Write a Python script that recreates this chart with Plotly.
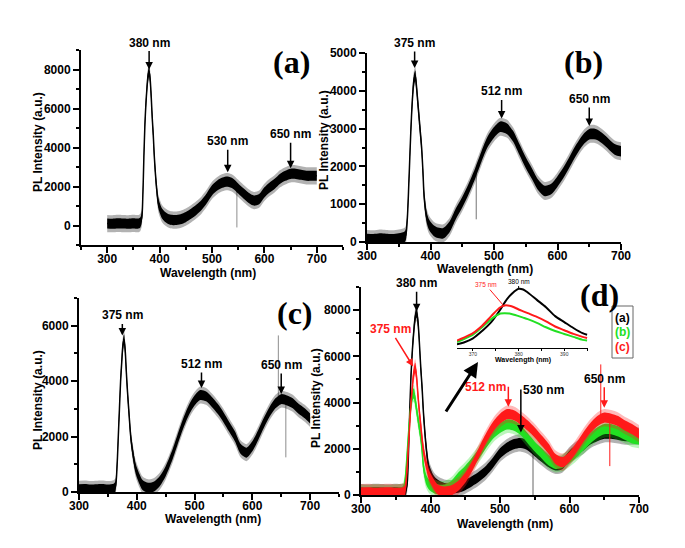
import numpy as np
import plotly.graph_objects as go

# ---------------- data ----------------
wl = [300, 310, 320, 330, 340, 350, 360,
      363, 366, 368, 370, 372, 374, 376, 378, 380, 382, 384, 386, 388, 390,
      394, 398, 405, 410,
      420, 430, 440, 450, 460, 470, 480, 490, 500, 510, 520, 530, 540, 550,
      560, 570, 580, 590, 600, 610, 620, 630, 640, 650, 660, 670, 680, 690, 700]

pl_a = [100, 90, 110, 100, 90, 110, 100,
        150, 400, 1500, 3500, 5200, 6300, 7100, 7700, 7900, 7500, 6600, 5500, 4600, 3500,
        2000, 1100, 600, 450,
        300, 280, 320, 430, 600, 800, 1050, 1400, 1800, 2050, 2200, 2250, 2150, 1900,
        1650, 1420, 1280, 1350, 1700, 1950, 2150, 2400, 2550, 2650, 2650, 2600, 2550, 2550, 2550]

pl_b = [80, 70, 90, 80, 70, 90, 150,
        500, 1600, 2500, 3300, 3900, 4300, 4400, 4100, 3700, 3300, 2900, 2500, 1900, 1200,
        650, 450, 300, 250,
        230, 400, 750, 1050, 1400, 1800, 2250, 2650, 2900, 3050, 3000, 2800, 2450, 2100,
        1800, 1500, 1350, 1400, 1600, 1850, 2150, 2450, 2700, 2850, 2850, 2750, 2600, 2450, 2400]

pl_c = [100, 110, 90, 100, 110, 90, 120,
        200, 1000, 2000, 3000, 4000, 4700, 5300, 5500, 5100, 4300, 3600, 3000, 2400, 1900,
        1300, 850, 450, 250,
        150, 200, 400, 750, 1250, 1850, 2450, 2950, 3300, 3500, 3450, 3250, 3000, 2700,
        2350, 2000, 1550, 1420, 1650, 2050, 2500, 2900, 3200, 3350, 3300, 3200, 3000, 2850, 2650]

# single-channel spikes (wavelength, low, high)
spike_a_x, spike_a_lo, spike_a_hi = [547.5], [-100], [1900]
spike_b_x, spike_b_lo, spike_b_hi = [472], [600], [1850]
spike_c_x, spike_c_lo, spike_c_hi = [645, 658], [3300, 1250], [5650, 3300]

# inset (zoom of the UV peak)
inset_wl = [366.5, 368, 370, 372, 374, 376, 377, 378, 379, 380, 381, 382, 384, 386, 388, 390, 392, 394, 395]
inset_a = [500, 750, 1300, 2300, 3500, 5200, 6200, 7000, 7600, 8000, 7900, 7500, 6500, 5500, 4300, 3500, 2700, 2000, 1800]
inset_b = [800, 1200, 1800, 2800, 3900, 4650, 4700, 4650, 4500, 4300, 4100, 3900, 3400, 2800, 2300, 1900, 1500, 1100, 1000]
inset_c = [1000, 1400, 2000, 3000, 4300, 5500, 5750, 5700, 5500, 5200, 4950, 4700, 4200, 3600, 2900, 2400, 1900, 1500, 1350]

peaks_a = [380, 530, 650]
peaks_b = [375, 512, 650]
peaks_c = [375, 512, 650]
peaks_d_black = [380, 530]
peaks_d_red = [375, 512, 650]
legend_labels = ["(a)", "(b)", "(c)"]
panel_labels = ["(a)", "(b)", "(c)", "(d)"]
y_title = "PL Intensity (a.u.)"
x_title = "Wavelength (nm)"

# ---------------- helpers ----------------
W, H = 685, 548
def PX(p):
    return p / W
def PY(p):
    return 1 - p / H

BLACK = "#000000"
GREEN = "#22e022"
RED = "#ff1a1a"

def rgba(hexc, a):
    h = hexc.lstrip("#")
    return "rgba(%d,%d,%d,%.2f)" % (int(h[0:2], 16), int(h[2:4], 16), int(h[4:6], 16), a)

fig = go.Figure()

def refs(idx):
    return ("x" if idx == 1 else "x%d" % idx), ("y" if idx == 1 else "y%d" % idx)

def add_series(idx, y, color, half, thin_w=1.5):
    """Noisy spectrum drawn as a noise band (+/- half in data units) plus a thin core line."""
    xa, ya = refs(idx)
    y = np.array(y, dtype=float)
    common = dict(x=wl, xaxis=xa, yaxis=ya, mode="lines", showlegend=False, hoverinfo="skip")
    for h, a in [(half * 1.7, 0.30), (half, 1.0)]:
        fig.add_trace(go.Scatter(y=list(y - h), line=dict(width=0, shape="spline", smoothing=0.8),
                                 **common))
        fig.add_trace(go.Scatter(y=list(y + h), fill="tonexty", fillcolor=rgba(color, a),
                                 line=dict(width=0, shape="spline", smoothing=0.8), **common))
    fig.add_trace(go.Scatter(y=list(y), line=dict(color=color, width=thin_w,
                                                  shape="spline", smoothing=0.8), **common))

def add_spikes(idx, xs, lo, hi, color):
    xa, ya = refs(idx)
    sx, sy = [], []
    for a, l, h in zip(xs, lo, hi):
        sx += [a, a, None]
        sy += [l, h, None]
    fig.add_trace(go.Scatter(x=sx, y=sy, xaxis=xa, yaxis=ya, mode="lines",
                             line=dict(color=color, width=1), showlegend=False, hoverinfo="skip"))

# panel (a)
add_series(1, pl_a, BLACK, 260)
add_spikes(1, spike_a_x, spike_a_lo, spike_a_hi, "rgba(0,0,0,0.45)")
# panel (b)
add_series(2, pl_b, BLACK, 140)
add_spikes(2, spike_b_x, spike_b_lo, spike_b_hi, "rgba(0,0,0,0.55)")
# panel (c)
add_series(3, pl_c, BLACK, 180)
add_spikes(3, spike_c_x, spike_c_lo, spike_c_hi, "rgba(0,0,0,0.45)")
# panel (d)
add_series(4, pl_a, BLACK, 220)
add_spikes(4, spike_a_x, spike_a_lo, spike_a_hi, "rgba(0,0,0,0.6)")
add_series(4, pl_b, GREEN, 220)
add_series(4, pl_c, RED, 220)
add_spikes(4, spike_c_x, spike_c_lo, spike_c_hi, RED)
# inset
for ys, c in [(inset_a, BLACK), (inset_b, GREEN), (inset_c, RED)]:
    fig.add_trace(go.Scatter(x=inset_wl, y=ys, xaxis="x5", yaxis="y5", mode="lines",
                             line=dict(color=c, width=2, shape="spline", smoothing=0.8),
                             showlegend=False, hoverinfo="skip"))

# ---------------- axes ----------------
tickfont = dict(family="Liberation Sans, Arial", size=12, color="black", weight="bold")

def axis(domain, rng, tickvals, minor_dtick, anchor, **kw):
    d = dict(domain=domain, range=rng, tickvals=tickvals, ticktext=[str(v) for v in tickvals],
             showline=True, linecolor="black", linewidth=2, ticks="outside", ticklen=6,
             tickwidth=2, tickcolor="black", showgrid=False, zeroline=False, automargin=False,
             tickfont=tickfont, anchor=anchor, fixedrange=True,
             minor=dict(dtick=minor_dtick, tick0=0, ticks="outside", ticklen=3,
                        tickwidth=1.5, tickcolor="black", showgrid=False))
    d.update(kw)
    return d

xt = [300, 400, 500, 600, 700]
xs_off = -4
layout = dict(
    template="none",
    width=W, height=H, margin=dict(l=0, r=0, t=0, b=0, pad=0), autosize=False,
    paper_bgcolor="white", plot_bgcolor="white", showlegend=False,
    xaxis=axis([PX(81), PX(343)], [250, 750], xt, 50, "y", ticklabelstandoff=xs_off),
    yaxis=axis([PY(245), PY(50)], [-1000, 9000], [0, 2000, 4000, 6000, 8000], 1000, "x"),
    xaxis2=axis([PX(367), PX(621)], [300, 700], xt, 50, "y2", ticklabelstandoff=xs_off),
    yaxis2=axis([PY(242), PY(53)], [0, 5000], [0, 1000, 2000, 3000, 4000, 5000], 500, "x2"),
    xaxis3=axis([PX(79), PX(339)], [300, 750], xt, 50, "y3", ticklabelstandoff=xs_off),
    yaxis3=axis([PY(492), PY(298)], [0, 7000], [0, 2000, 4000, 6000], 1000, "x3"),
    xaxis4=axis([PX(361), PX(639)], [300, 700], xt, 50, "y4", ticklabelstandoff=xs_off),
    yaxis4=axis([PY(495), PY(287)], [0, 9000], [0, 2000, 4000, 6000, 8000], 1000, "x4"),
    xaxis5=dict(domain=[PX(457), PX(588)], range=[366.5, 395.2], anchor="y5",
                tickvals=[370, 380, 390], showline=True, linecolor="black", linewidth=1,
                ticks="outside", ticklen=2, tickwidth=1, tickcolor="black", automargin=False,
                tickfont=dict(family="Liberation Sans, Arial", size=5, color="#333"),
                showgrid=False, zeroline=False, fixedrange=True, ticklabelstandoff=-1,
                minor=dict(dtick=5, tick0=0, ticks="outside", ticklen=1.5, tickcolor="black")),
    yaxis5=dict(domain=[PY(348), PY(278)], range=[0, 9450], anchor="x5", visible=False,
                automargin=False, fixedrange=True),
)
fig.update_layout(**layout)

# ---------------- annotations ----------------
ann = []
def txt(x, y, s, size=12, color="black", family="Liberation Sans, Arial", bold=True, angle=0):
    ann.append(dict(x=PX(x), y=PY(y), xref="paper", yref="paper", showarrow=False,
                    text=("<b>%s</b>" % s) if bold else s, textangle=angle,
                    font=dict(family=family, size=size, color=color),
                    xanchor="center", yanchor="middle"))

# axis titles
for (x, y) in [(38, 142), (324, 140), (38, 400), (316, 398)]:
    txt(x, y, y_title, angle=-90)
for (x, y) in [(208, 273), (485, 269), (213, 519), (505, 524)]:
    txt(x, y, x_title)
# panel letters
for s, (x, y) in zip(panel_labels, [(291, 62), (583, 62), (295, 313), (599, 295)]):
    txt(x, y, s, size=32, family="Liberation Serif, Times New Roman")

# peak arrows
def peak(idx, p, series, pad, ax, ay, color="black", arrowcolor=None, xanchor="center"):
    xa, ya = refs(idx)
    yv = float(np.interp(p, wl, series)) + pad
    ann.append(dict(x=p, y=yv, xref=xa, yref=ya, text="<b>%d nm</b>" % p,
                    showarrow=True, ax=ax, ay=ay, arrowhead=2, arrowsize=1, arrowwidth=1.5,
                    arrowcolor=arrowcolor or color, standoff=0, xanchor=xanchor,
                    font=dict(family="Liberation Sans, Arial", size=12, color=color)))

for p, pad, ay in zip(peaks_a, [100, 480, 290], [-27, -31, -34]):
    peak(1, p, pl_a, pad, 0, ay)
for p, pad, ay in zip(peaks_b, [250, 230, 220], [-25, -27, -27]):
    peak(2, p, pl_b, pad, 0, ay)
for p, pad, ay in zip(peaks_c, [650, 260, 190], [-20, -24, -29]):
    peak(3, p, pl_c, pad, 0, ay)
# panel (d)
peak(4, peaks_d_black[0], pl_a, 50, 0, -28)
peak(4, peaks_d_black[1], pl_a, 450, 0, -43, xanchor="left")
peak(4, peaks_d_red[0], pl_c, 565, -23, -37, color=RED)
peak(4, peaks_d_red[1], pl_c, 330, 0, -20, color=RED, xanchor="right")
peak(4, peaks_d_red[2], pl_c, 430, 0, -29, color="black", arrowcolor=RED)

# big arrow towards inset
ann.append(dict(x=PX(478), y=PY(362), xref="paper", yref="paper", text="", showarrow=True,
                ax=-33, ay=51, arrowhead=2, arrowsize=1, arrowwidth=3, arrowcolor="black",
                standoff=0))

# inset labels
ann.append(dict(x=380, y=float(np.interp(380, inset_wl, inset_a)) + 100, xref="x5", yref="y5",
                text="380 nm", showarrow=True, ax=0, ay=-7, arrowhead=0, arrowwidth=1,
                arrowcolor="black", standoff=0,
                font=dict(family="Liberation Sans, Arial", size=6.5, color="black")))
ann.append(dict(x=376.7, y=float(np.interp(376.7, inset_wl, inset_c)) + 50, xref="x5", yref="y5",
                text="375 nm", showarrow=True, ax=-18, ay=-21, arrowhead=0, arrowwidth=1,
                arrowcolor=RED, standoff=0,
                font=dict(family="Liberation Sans, Arial", size=6.5, color=RED)))
txt(523, 360, x_title, size=7)

# legend box
for s, c, y in zip(legend_labels, [BLACK, GREEN, RED], [318, 332, 347]):
    txt(622.5, y, s, size=12, color=c)
fig.add_shape(type="rect", xref="paper", yref="paper", x0=PX(612), x1=PX(633),
              y0=PY(358), y1=PY(306), line=dict(color="#666", width=1))

fig.update_layout(annotations=ann)
# the page's default body margin would shift the figure by 8px; remove it
fig.write_html("out.html", config={"displayModeBar": False},
               post_script="document.body.style.margin='0px';")
